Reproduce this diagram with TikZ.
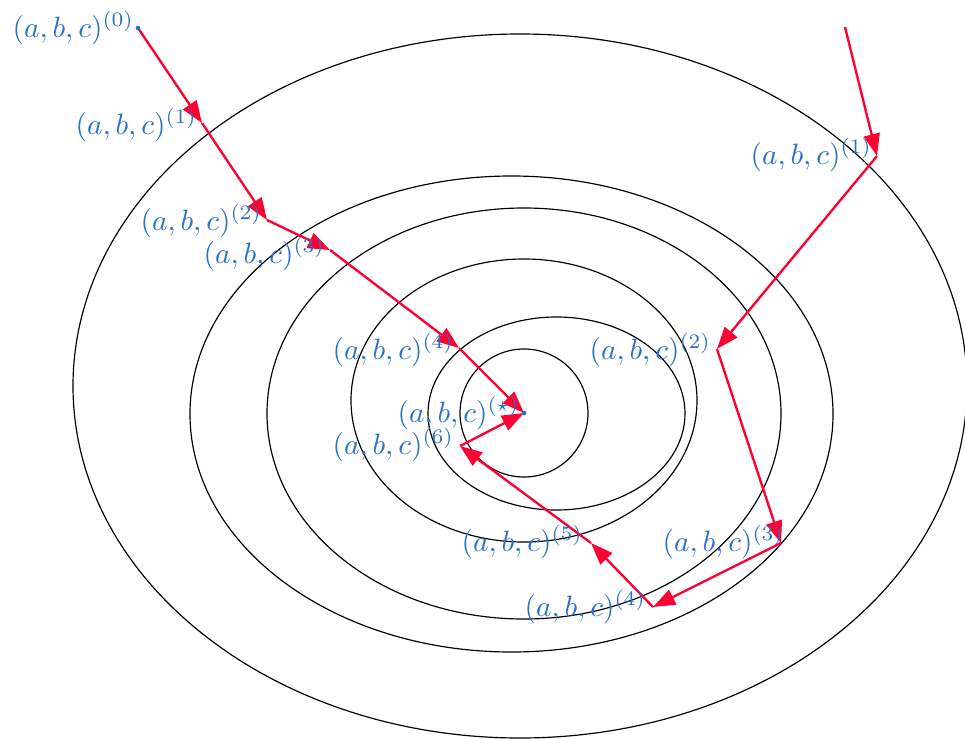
\documentclass[tikz,border=0pt]{standalone}
\usetikzlibrary{arrows.meta}
\definecolor{lblblue}{RGB}{40,112,200}
\definecolor{pathred}{RGB}{255,0,51}
\begin{document}
\begin{tikzpicture}[x=0.34pt,y=-0.34pt,
  contour/.style={draw=black,line width=0.4pt},
  walk/.style={draw=pathred,line width=0.8pt,-{Triangle[length=7.5pt,width=5.5pt]}},
  lbl/.style={text=lblblue,inner sep=0pt,anchor=base west},
  dotmark/.style={circle,fill=lblblue,inner sep=0pt,minimum size=1.6pt}]
\useasboundingbox (0,0) rectangle (965,738);
% level curves
\draw[contour] (524,413) ellipse [x radius=21.76pt, y radius=21.76pt];
\draw[contour] (556.5,413.5) ellipse [x radius=43.69pt, y radius=32.81pt];
\draw[contour] (524,400.5) ellipse [x radius=58.82pt, y radius=48.11pt];
\draw[contour] (524,413.5) ellipse [x radius=87.38pt, y radius=69.87pt];
\draw[contour] (511.5,414) ellipse [x radius=109.31pt, y radius=80.92pt];
\draw[contour] (520,386) ellipse [x radius=151.98pt, y radius=119.68pt];
% points of the left walk
\coordinate (p0) at (138,28);
\coordinate (p1) at (202,123);
\coordinate (p2) at (267,220);
\coordinate (p3) at (330,250);
\coordinate (p4) at (459,348);
\coordinate (ps) at (524,413);
% points of the right walk
\coordinate (r0) at (845,27);
\coordinate (r1) at (877,156);
\coordinate (r2) at (717,349);
\coordinate (r3) at (781,543);
\coordinate (r4) at (653,607);
\coordinate (r5) at (591,543);
\coordinate (r6) at (460,446);
% walks
\draw[walk] (p0) -- (p1);
\draw[walk] (p1) -- (p2);
\draw[walk] (p2) -- (p3);
\draw[walk] (p3) -- (p4);
\draw[walk] (p4) -- (ps);
\draw[walk] (r0) -- (r1);
\draw[walk] (r1) -- (r2);
\draw[walk] (r2) -- (r3);
\draw[walk] (r3) -- (r4);
\draw[walk] (r4) -- (r5);
\draw[walk] (r5) -- (r6);
\draw[walk] (r6) -- (ps);
% dots
\node[dotmark] (d0) at (p0) {};
\node[dotmark] (ds) at (ps) {};
% labels
\node[lbl] (l0) at (12,37) {$(a,b,c)^{(0)}$};
\node[lbl] (l1) at (75,134) {$(a,b,c)^{(1)}$};
\node[lbl] (l2) at (140,230) {$(a,b,c)^{(2)}$};
\node[lbl] (l3) at (203,263) {$(a,b,c)^{(3)}$};
\node[lbl] (l4) at (332,359) {$(a,b,c)^{(4)}$};
\node[lbl] (lstar) at (397,422) {$(a,b,c)^{(\star)}$};
\node[lbl] (l6) at (332,454) {$(a,b,c)^{(6)}$};
\node[lbl] (m1) at (750,164) {$(a,b,c)^{(1)}$};
\node[lbl] (m2) at (589,359) {$(a,b,c)^{(2)}$};
\node[lbl] (m3) at (662,551) {$(a,b,c)^{(3)}$};
\node[lbl] (m4) at (524,616) {$(a,b,c)^{(4)}$};
\node[lbl] (m5) at (461,551) {$(a,b,c)^{(5)}$};
\end{tikzpicture}
\end{document}
